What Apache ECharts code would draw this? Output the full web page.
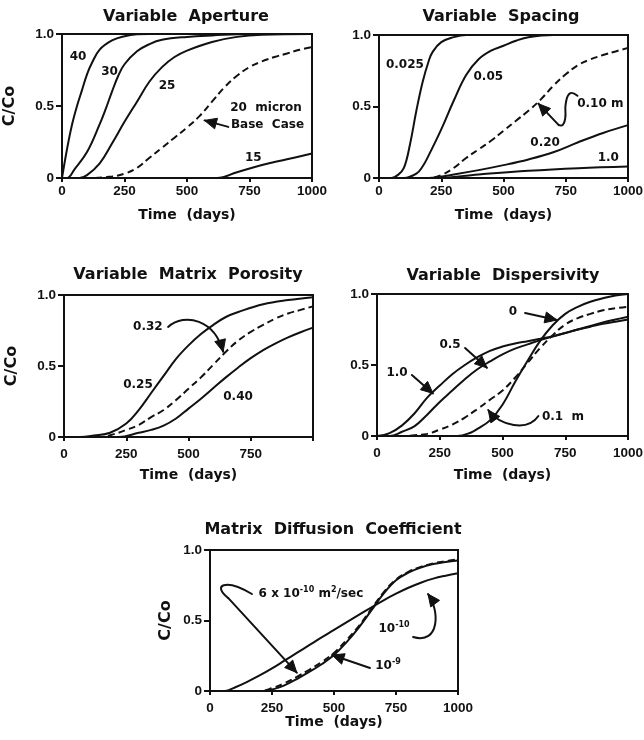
<!DOCTYPE html>
<html>
<head>
<meta charset="utf-8">
<script src="https://cdn.jsdelivr.net/npm/echarts/dist/echarts.min.js"></script>
<style>
  html, body { margin: 0; padding: 0; background: #fff; }
  #chart { width: 644px; height: 740px; }
</style>
</head>
<body>
<div id="chart"></div>
<script>
// Breakthrough curves: relative concentration C/Co versus time (days)
// Each series is a list of [day, C/Co] pairs.

const xTickLabels = ['0', '250', '500', '750', '1000'];
const xTickLabelsNoEnd = ['0', '250', '500', '750', ''];
const yTickLabels = ['0', '0.5', '1.0'];

// Variable aperture (micron)
const aperture40 = [[0,0],[20,0.2],[40,0.37],[60,0.5],[80,0.61],[100,0.72],[120,0.8],[150,0.89],[200,0.955],[250,0.985],[300,0.998],[350,1],[1000,1]];
const aperture30 = [[0,0],[20,0],[50,0.06],[100,0.18],[150,0.37],[175,0.48],[200,0.6],[225,0.71],[250,0.79],[300,0.88],[350,0.93],[400,0.96],[500,0.98],[600,0.99],[750,1],[1000,1]];
const aperture25 = [[0,0],[70,0],[100,0.02],[150,0.1],[200,0.24],[250,0.39],[300,0.53],[350,0.67],[400,0.77],[450,0.84],[500,0.885],[600,0.945],[700,0.98],[800,0.995],[1000,1]];
const aperture20 = [[0,0],[100,0],[200,0.01],[250,0.03],[300,0.07],[350,0.14],[400,0.21],[450,0.28],[500,0.35],[550,0.43],[600,0.53],[650,0.63],[700,0.71],[750,0.77],[800,0.81],[850,0.84],[900,0.865],[950,0.89],[1000,0.91]];
const aperture15 = [[0,0],[620,0],[700,0.04],[800,0.09],[900,0.13],[1000,0.17]];

// Variable fracture spacing (m)
const spacing025 = [[0,0],[50,0],[75,0.02],[100,0.07],[125,0.24],[150,0.47],[175,0.67],[200,0.82],[215,0.88],[250,0.95],[300,0.985],[350,1],[1000,1]];
const spacing05 = [[0,0],[100,0],[150,0.03],[175,0.08],[200,0.16],[250,0.34],[300,0.54],[350,0.72],[400,0.83],[450,0.89],[500,0.925],[550,0.96],[600,0.985],[700,1],[1000,1]];
const spacing10 = [[0,0],[200,0],[250,0.02],[300,0.07],[350,0.14],[400,0.2],[450,0.26],[500,0.33],[550,0.4],[600,0.47],[650,0.55],[700,0.645],[750,0.725],[800,0.79],[850,0.83],[900,0.86],[950,0.885],[1000,0.91]];
const spacing20 = [[0,0],[200,0],[300,0.025],[400,0.055],[500,0.09],[600,0.13],[700,0.18],[800,0.25],[900,0.315],[1000,0.37]];
const spacing100 = [[0,0],[220,0],[400,0.025],[600,0.05],[800,0.068],[1000,0.08]];

// Variable matrix porosity
const porosity25 = [[0,0],[64,0],[120,0.01],[185,0.03],[250,0.095],[300,0.19],[350,0.31],[400,0.43],[450,0.55],[500,0.645],[550,0.725],[600,0.79],[650,0.845],[700,0.88],[800,0.935],[900,0.965],[1000,0.985]];
const porosity32 = [[0,0],[150,0],[200,0.02],[250,0.05],[300,0.085],[350,0.14],[400,0.19],[450,0.26],[500,0.34],[550,0.42],[600,0.51],[650,0.6],[700,0.68],[750,0.74],[800,0.79],[850,0.835],[900,0.87],[950,0.895],[1000,0.92]];
const porosity40 = [[0,0],[220,0],[300,0.03],[350,0.05],[400,0.08],[450,0.13],[500,0.2],[550,0.27],[600,0.345],[650,0.42],[700,0.49],[750,0.555],[800,0.612],[850,0.66],[900,0.702],[950,0.738],[1000,0.77]];

// Variable dispersivity (m)
const dispersivity0 = [[0,0],[320,0],[375,0.025],[400,0.05],[450,0.11],[500,0.22],[550,0.38],[600,0.53],[650,0.67],[700,0.78],[750,0.86],[800,0.91],[850,0.945],[900,0.97],[950,0.99],[1000,1]];
const dispersivity01 = [[0,0],[100,0],[150,0.005],[200,0.015],[250,0.045],[300,0.08],[350,0.13],[400,0.19],[450,0.255],[500,0.32],[550,0.41],[600,0.515],[650,0.62],[700,0.71],[750,0.785],[800,0.83],[850,0.86],[900,0.885],[950,0.9],[1000,0.91]];
const dispersivity05 = [[0,0],[50,0],[100,0.03],[150,0.07],[200,0.15],[250,0.24],[300,0.32],[350,0.4],[400,0.47],[450,0.525],[500,0.575],[550,0.615],[600,0.645],[650,0.675],[700,0.7],[750,0.725],[800,0.75],[850,0.775],[900,0.8],[950,0.82],[1000,0.84]];
const dispersivity10 = [[0,0],[50,0.02],[100,0.075],[150,0.16],[200,0.27],[250,0.355],[300,0.435],[350,0.5],[400,0.555],[450,0.6],[500,0.63],[550,0.652],[600,0.668],[650,0.685],[700,0.703],[750,0.725],[800,0.75],[850,0.77],[900,0.79],[950,0.805],[1000,0.82]];

// Matrix diffusion coefficient (m2/sec)
const diffusion1e10 = [[0,0],[60,0],[100,0.025],[150,0.065],[200,0.11],[250,0.16],[300,0.215],[350,0.27],[400,0.325],[450,0.38],[500,0.433],[550,0.487],[600,0.54],[650,0.592],[700,0.643],[750,0.69],[800,0.732],[850,0.768],[900,0.797],[950,0.818],[1000,0.835]];
const diffusion6e10 = [[0,0],[200,0],[250,0.02],[300,0.055],[350,0.1],[400,0.15],[450,0.205],[500,0.27],[550,0.36],[600,0.46],[650,0.58],[700,0.7],[750,0.79],[800,0.845],[850,0.88],[900,0.905],[950,0.92],[1000,0.935]];
const diffusion1e9 = [[0,0],[215,0],[260,0.015],[300,0.04],[350,0.085],[400,0.135],[450,0.19],[500,0.255],[550,0.345],[600,0.45],[650,0.57],[700,0.69],[750,0.785],[800,0.84],[850,0.875],[900,0.9],[950,0.915],[1000,0.925]];

const INK = '#111';
const LABEL_FONT = '"DejaVu Sans", "Liberation Sans", sans-serif';
const TICK_FONT = '"Liberation Sans", Arial, sans-serif';

const panels = [
  { box: { left: 62, top: 34, width: 250, height: 144 }, title: 'Variable  Aperture', titleAt: [186, 9],
    xTicks: xTickLabels, showY: true, yNameGap: 44, xLabelMargin: 6, xNameGap: 30,
    lines: [[aperture40, false], [aperture30, false], [aperture25, false], [aperture20, true], [aperture15, false]] },
  { box: { left: 379, top: 35, width: 249, height: 143 }, title: 'Variable  Spacing', titleAt: [501, 9],
    xTicks: xTickLabels, showY: false, yNameGap: 44, xLabelMargin: 6, xNameGap: 30,
    lines: [[spacing025, false], [spacing05, false], [spacing10, true], [spacing20, false], [spacing100, false]] },
  { box: { left: 64, top: 295, width: 249, height: 142 }, title: 'Variable  Matrix  Porosity', titleAt: [188, 267],
    xTicks: xTickLabelsNoEnd, showY: true, yNameGap: 44, xLabelMargin: 10, xNameGap: 31,
    lines: [[porosity25, false], [porosity32, true], [porosity40, false]] },
  { box: { left: 377, top: 294, width: 251, height: 142 }, title: 'Variable  Dispersivity', titleAt: [503, 268],
    xTicks: xTickLabels, showY: false, yNameGap: 44, xLabelMargin: 10, xNameGap: 32,
    lines: [[dispersivity0, false], [dispersivity01, true], [dispersivity05, false], [dispersivity10, false]] },
  { box: { left: 210, top: 550, width: 248, height: 141 }, title: 'Matrix  Diffusion  Coefficient', titleAt: [333, 522],
    xTicks: xTickLabels, showY: true, yNameGap: 36, xLabelMargin: 10, xNameGap: 24,
    lines: [[diffusion1e10, false], [diffusion6e10, true], [diffusion1e9, false]] }
];

const grids = [], xAxes = [], yAxes = [], series = [];
panels.forEach((p, i) => {
  grids.push(Object.assign({ show: true, borderColor: INK, borderWidth: 2, backgroundColor: 'transparent',
    containLabel: false, outerBoundsMode: 'none' }, p.box));
  xAxes.push({
    gridIndex: i, type: 'value', min: 0, max: 1000, interval: 250,
    name: 'Time  (days)', nameLocation: 'middle', nameGap: p.xNameGap, nameMoveOverlap: false,
    nameTextStyle: { fontFamily: LABEL_FONT, fontWeight: 'bold', fontSize: 14, color: INK },
    axisLine: { show: true, onZero: false, lineStyle: { color: INK, width: 2 } },
    axisTick: { show: true, inside: false, length: 4, lineStyle: { color: INK, width: 2 } },
    axisLabel: { margin: p.xLabelMargin, fontFamily: TICK_FONT, fontWeight: 'bold', fontSize: 13.5, color: INK,
      showMinLabel: true, showMaxLabel: true, hideOverlap: false,
      formatter: v => p.xTicks[Math.round(v / 250)] },
    splitLine: { show: false }
  });
  yAxes.push({
    gridIndex: i, type: 'value', min: 0, max: 1, interval: 0.5,
    name: p.showY ? 'C/Co' : '', nameLocation: 'middle', nameRotate: 90, nameGap: p.yNameGap, nameMoveOverlap: false,
    nameTextStyle: { fontFamily: LABEL_FONT, fontWeight: 'bold', fontSize: 16, color: INK },
    axisLine: { show: true, onZero: false, lineStyle: { color: INK, width: 2 } },
    axisTick: { show: true, inside: false, length: 6, lineStyle: { color: INK, width: 2 } },
    axisLabel: { margin: 8, fontFamily: TICK_FONT, fontWeight: 'bold', fontSize: 13.5, color: INK,
      showMinLabel: true, showMaxLabel: true, hideOverlap: false,
      formatter: v => yTickLabels[Math.round(v / 0.5)] },
    splitLine: { show: false }
  });
  p.lines.forEach(([data, dashed]) => {
    series.push({
      type: 'line', xAxisIndex: i, yAxisIndex: i, data: data,
      showSymbol: false, symbol: 'none', smooth: 0.4, silent: true,
      lineStyle: { color: INK, width: 2, type: dashed ? [7, 4] : 'solid' }
    });
  });
});

const chart = echarts.init(document.getElementById('chart'), null, { renderer: 'canvas' });
chart.setOption({
  animation: false,
  backgroundColor: '#fff',
  grid: grids, xAxis: xAxes, yAxis: yAxes, series: series
});

// Curve labels, placed in each panel's data coordinates
const curveLabels = [
  { g: 0, at: [64, 0.84], text: '40' },
  { g: 0, at: [190, 0.74], text: '30' },
  { g: 0, at: [420, 0.64], text: '25' },
  { g: 0, at: [816, 0.49], text: '20  micron' },
  { g: 0, at: [822, 0.368], text: 'Base  Case' },
  { g: 0, at: [765, 0.14], text: '15' },
  { g: 1, at: [104, 0.79], text: '0.025' },
  { g: 1, at: [439, 0.708], text: '0.05' },
  { g: 1, at: [889, 0.515], text: '0.10 m' },
  { g: 1, at: [667, 0.243], text: '0.20' },
  { g: 1, at: [921, 0.138], text: '1.0' },
  { g: 2, at: [337, 0.775], text: '0.32' },
  { g: 2, at: [297, 0.366], text: '0.25' },
  { g: 2, at: [699, 0.28], text: '0.40' },
  { g: 3, at: [542, 0.873], text: '0' },
  { g: 3, at: [291, 0.64], text: '0.5' },
  { g: 3, at: [80, 0.444], text: '1.0' },
  { g: 3, at: [741, 0.134], text: '0.1  m' },
  { g: 4, at: [407, 0.695], text: '{m|6 x 10}{s|-10}{m| m}{s|2}{m|/sec}' },
  { g: 4, at: [742, 0.447], text: '{m|10}{s|-10}' },
  { g: 4, at: [718, 0.184], text: '{m|10}{s|-9}' }
];

// Pointer arrows: straight shafts, cubic curves, or a smoothed bend followed by a shaft
const pointers = [
  { g: 0, line: [[665, 0.355], [570, 0.40]] },
  { g: 1, bend: [[797, 0.575], [767, 0.592], [750, 0.52], [748, 0.42], [738, 0.372], [722, 0.37]], line: [[722, 0.37], [640, 0.52]] },
  { g: 2, cubic: [[418, 0.775], [486, 0.88], [606, 0.824], [639, 0.6]] },
  { g: 3, line: [[590, 0.866], [717, 0.817]] },
  { g: 3, line: [[351, 0.62], [438, 0.48]] },
  { g: 3, line: [[139, 0.43], [223, 0.30]] },
  { g: 3, cubic: [[643, 0.141], [600, 0.03], [490, 0.07], [443, 0.183]] },
  { g: 4, loop: [[169, 0.688], [60, 0.80], [8, 0.75], [73, 0.66]], line: [[73, 0.66], [350, 0.13]] },
  { g: 4, cubic: [[819, 0.383], [927, 0.326], [927, 0.574], [879, 0.688]] },
  { g: 4, line: [[645, 0.163], [492, 0.255]] }
];

function toPx(g, p) { return chart.convertToPixel({ gridIndex: g }, p); }

function arrowHead(from, tip) {
  const dx = tip[0] - from[0], dy = tip[1] - from[1];
  const len = Math.hypot(dx, dy) || 1;
  const ux = dx / len, uy = dy / len;
  const L = 12, W = 5.5;
  const bx = tip[0] - ux * L, by = tip[1] - uy * L;
  return { type: 'polygon', shape: { points: [tip, [bx - uy * W, by + ux * W], [bx + uy * W, by - ux * W]] },
    style: { fill: INK, stroke: INK, lineWidth: 1 }, silent: true, z: 10 };
}

const strokeStyle = { stroke: INK, lineWidth: 2, fill: null, lineCap: 'round', lineJoin: 'round' };
const graphics = [];

panels.forEach(p => {
  graphics.push({ type: 'text', x: p.titleAt[0], y: p.titleAt[1], silent: true,
    style: { text: p.title, font: 'bold 16px ' + LABEL_FONT, fill: INK,
      align: 'center', textAlign: 'center', verticalAlign: 'top', textVerticalAlign: 'top' } });
});

curveLabels.forEach(c => {
  const [x, y] = toPx(c.g, c.at);
  const rich = {
    m: { font: 'bold 12px ' + LABEL_FONT, fill: INK, color: INK, lineHeight: 14, verticalAlign: 'bottom' },
    s: { font: 'bold 8px ' + LABEL_FONT, fill: INK, color: INK, lineHeight: 9, verticalAlign: 'top' }
  };
  graphics.push({ type: 'text', x: x, y: y, silent: true, z: 10,
    style: { text: c.text, rich: rich, font: 'bold 12px ' + LABEL_FONT, fill: INK,
      align: 'center', textAlign: 'center', verticalAlign: 'middle', textVerticalAlign: 'middle' } });
});

pointers.forEach(a => {
  if (a.bend) {
    graphics.push({ type: 'polyline', silent: true, z: 10,
      shape: { points: a.bend.map(p => toPx(a.g, p)), smooth: 0.5 }, style: strokeStyle });
  }
  if (a.loop) {
    const q = a.loop.map(p => toPx(a.g, p));
    graphics.push({ type: 'bezierCurve', silent: true, z: 10,
      shape: { x1: q[0][0], y1: q[0][1], cpx1: q[1][0], cpy1: q[1][1], cpx2: q[2][0], cpy2: q[2][1], x2: q[3][0], y2: q[3][1] },
      style: strokeStyle });
  }
  if (a.line) {
    const f = toPx(a.g, a.line[0]), t = toPx(a.g, a.line[1]);
    graphics.push({ type: 'line', silent: true, z: 10,
      shape: { x1: f[0], y1: f[1], x2: t[0], y2: t[1] }, style: strokeStyle });
    graphics.push(arrowHead(f, t));
  }
  if (a.cubic) {
    const q = a.cubic.map(p => toPx(a.g, p));
    graphics.push({ type: 'bezierCurve', silent: true, z: 10,
      shape: { x1: q[0][0], y1: q[0][1], cpx1: q[1][0], cpy1: q[1][1], cpx2: q[2][0], cpy2: q[2][1], x2: q[3][0], y2: q[3][1] },
      style: strokeStyle });
    graphics.push(arrowHead(q[2], q[3]));
  }
});

chart.setOption({ graphic: { elements: graphics } });
</script>
</body>
</html>
